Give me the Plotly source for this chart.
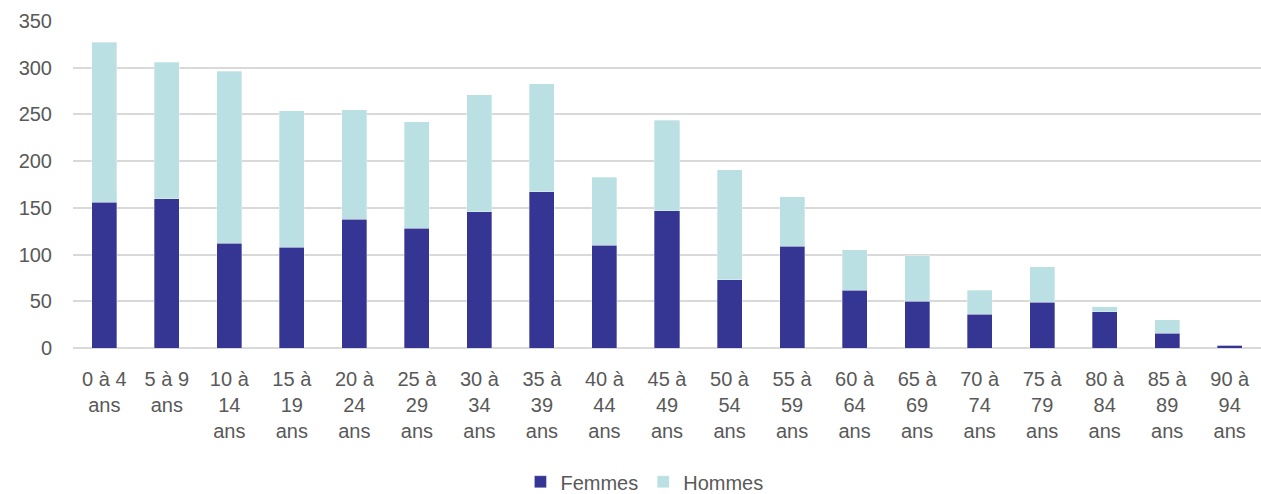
import plotly.graph_objects as go

# age groups (x categories)
age_groups = [
    "0 à 4<br>ans", "5 à 9<br>ans", "10 à<br>14<br>ans", "15 à<br>19<br>ans",
    "20 à<br>24<br>ans", "25 à<br>29<br>ans", "30 à<br>34<br>ans", "35 à<br>39<br>ans",
    "40 à<br>44<br>ans", "45 à<br>49<br>ans", "50 à<br>54<br>ans", "55 à<br>59<br>ans",
    "60 à<br>64<br>ans", "65 à<br>69<br>ans", "70 à<br>74<br>ans", "75 à<br>79<br>ans",
    "80 à<br>84<br>ans", "85 à<br>89<br>ans", "90 à<br>94<br>ans",
]

femmes = [156, 160, 112, 108, 138, 128, 146, 167, 110, 147, 73, 109, 62, 50, 36, 49, 39, 16, 3]
hommes = [171, 146, 184, 146, 117, 114, 125, 116, 73, 97, 118, 53, 43, 49, 26, 38, 5, 14, 0]

y_ticks = [0, 50, 100, 150, 200, 250, 300, 350]

FONT = "Liberation Sans, Arial, sans-serif"
TEXT_COLOR = "#595959"
GRID_COLOR = "#D9D9D9"

fig = go.Figure()
fig.add_trace(go.Bar(
    x=age_groups, y=femmes, name="Femmes",
    marker=dict(color="#353594", line=dict(color="rgba(255,255,255,0.4)", width=0.8)),
))
fig.add_trace(go.Bar(
    x=age_groups, y=hommes, name="Hommes",
    marker=dict(color="#BAE0E3", line=dict(color="rgba(255,255,255,0.4)", width=0.8)),
))

fig.update_layout(
    barmode="stack",
    bargap=0.6,
    width=1261,
    height=494,
    margin=dict(l=73, r=0, t=21, b=146, autoexpand=False),
    paper_bgcolor="white",
    plot_bgcolor="white",
    font=dict(family=FONT, size=20, color=TEXT_COLOR),
    legend=dict(
        orientation="h",
        traceorder="normal",
        x=0.481, xanchor="center",
        y=-0.409, yanchor="middle",
        font=dict(family=FONT, size=20, color=TEXT_COLOR),
        itemwidth=30,
    ),
    xaxis=dict(
        automargin=False,
        showgrid=False,
        showline=False,
        ticks="",
        tickangle=0,
        ticklabelstandoff=17,
    ),
    yaxis=dict(
        automargin=False,
        range=[0, 350],
        tickvals=y_ticks,
        showgrid=True,
        gridcolor=GRID_COLOR,
        gridwidth=1.5,
        zeroline=True,
        zerolinecolor=GRID_COLOR,
        zerolinewidth=1.5,
        ticks="",
        ticklabelstandoff=20,
    ),
)

# drop the default page margin so the figure sits at the window's corner
fig.write_html(
    "out.html",
    config={"displayModeBar": False},
    post_script="document.body.style.margin='0';",
)
